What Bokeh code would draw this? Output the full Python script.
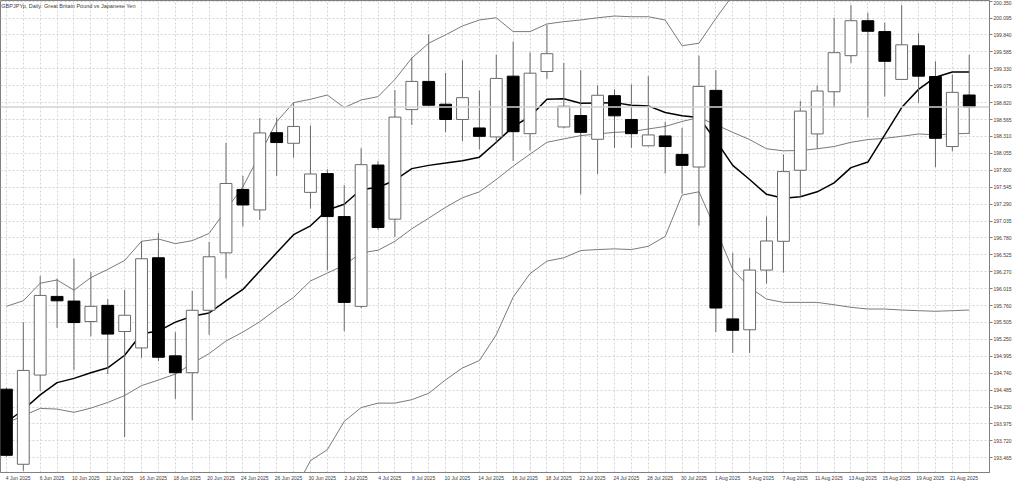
from bokeh.plotting import figure
from bokeh.models import FixedTicker, Label, ColumnDataSource, Range1d, Span
from bokeh.embed import file_html
from bokeh.resources import INLINE

# ---- data (GBPJPYp, Daily) ----
dates = ["4 Jun 2025", "5 Jun 2025", "6 Jun 2025", "9 Jun 2025", "10 Jun 2025", "11 Jun 2025",
         "12 Jun 2025", "13 Jun 2025", "16 Jun 2025", "17 Jun 2025", "18 Jun 2025", "19 Jun 2025",
         "20 Jun 2025", "23 Jun 2025", "24 Jun 2025", "25 Jun 2025", "26 Jun 2025", "27 Jun 2025",
         "30 Jun 2025", "1 Jul 2025", "2 Jul 2025", "3 Jul 2025", "4 Jul 2025", "7 Jul 2025",
         "8 Jul 2025", "9 Jul 2025", "10 Jul 2025", "11 Jul 2025", "14 Jul 2025", "15 Jul 2025",
         "16 Jul 2025", "17 Jul 2025", "18 Jul 2025", "21 Jul 2025", "22 Jul 2025", "23 Jul 2025",
         "24 Jul 2025", "25 Jul 2025", "28 Jul 2025", "29 Jul 2025", "30 Jul 2025", "31 Jul 2025",
         "1 Aug 2025", "4 Aug 2025", "5 Aug 2025", "6 Aug 2025", "7 Aug 2025", "8 Aug 2025",
         "11 Aug 2025", "12 Aug 2025", "13 Aug 2025", "14 Aug 2025", "15 Aug 2025", "18 Aug 2025",
         "19 Aug 2025", "20 Aug 2025", "21 Aug 2025", "22 Aug 2025"]

opens = [194.499, 193.367, 194.712, 195.898, 195.828, 195.519, 195.763, 195.369, 195.121, 196.481,
         195.002, 194.748, 195.689, 196.555, 197.511, 197.202, 198.367, 198.207, 197.467, 197.750,
         197.102, 195.748, 197.879, 197.063, 198.715, 199.140, 198.796, 198.566, 198.438, 198.303,
         199.219, 198.352, 199.289, 198.453, 198.626, 198.267, 198.925, 198.566, 198.169, 198.318,
         198.039, 197.849, 199.005, 195.559, 195.395, 196.295, 196.729, 197.800, 198.348, 198.984,
         199.528, 200.055, 199.891, 199.170, 199.677, 199.214, 198.158, 198.935]
highs = [194.520, 195.510, 196.206, 196.167, 196.470, 196.265, 195.858, 195.997, 196.729, 196.854,
         195.360, 195.982, 196.720, 198.214, 197.715, 198.587, 198.596, 198.820, 198.476, 197.815,
         197.576, 198.133, 197.939, 199.010, 199.503, 199.851, 199.268, 199.458, 199.005, 199.543,
         199.742, 199.577, 199.991, 199.418, 199.309, 199.080, 199.020, 199.095, 199.219, 198.532,
         198.438, 199.528, 199.309, 196.555, 196.481, 197.102, 198.039, 198.845, 199.080, 200.100,
         200.290, 200.175, 200.026, 200.290, 199.866, 199.443, 199.244, 199.543]
lows = [193.480, 193.269, 194.473, 195.424, 194.786, 195.294, 194.727, 193.777, 194.972, 194.921,
        194.353, 194.031, 195.320, 196.167, 196.953, 197.053, 197.715, 197.989, 197.222, 196.291,
        195.375, 195.720, 196.903, 196.794, 198.482, 198.756, 198.372, 198.237, 198.113, 198.222,
        197.939, 198.098, 199.179, 198.432, 197.437, 197.744, 198.139, 198.139, 198.160, 197.750,
        197.446, 196.963, 195.360, 195.046, 195.046, 196.092, 196.256, 197.401, 198.124, 198.745,
        199.418, 198.596, 198.910, 199.170, 198.820, 197.849, 198.088, 198.348]
closes = [193.502, 194.782, 195.913, 195.832, 195.504, 195.748, 195.330, 195.614, 196.466, 194.981,
          194.748, 195.689, 196.496, 197.601, 197.277, 198.363, 198.218, 198.461, 197.744, 197.102,
          195.808, 197.885, 196.938, 198.602, 199.140, 198.781, 198.566, 198.895, 198.312, 199.185,
          198.382, 199.264, 199.558, 198.766, 198.372, 198.931, 198.621, 198.352, 198.333, 198.158,
          197.874, 199.065, 195.723, 195.387, 196.295, 196.734, 197.780, 198.692, 198.995, 199.573,
          200.055, 199.896, 199.443, 199.692, 199.219, 198.282, 198.975, 198.756]

# thick moving average line
ma_line = [194.001, 194.189, 194.413, 194.598, 194.662, 194.748, 194.822, 195.011, 195.335, 195.375,
           195.510, 195.599, 195.648, 195.832, 196.003, 196.280, 196.555, 196.829, 196.963, 197.202,
           197.287, 197.511, 197.541, 197.650, 197.825, 197.874, 197.909, 197.945, 197.998, 198.222,
           198.457, 198.611, 198.871, 198.880, 198.811, 198.816, 198.820, 198.781, 198.771, 198.671,
           198.621, 198.596, 198.248, 197.874, 197.661, 197.437, 197.377, 197.401, 197.475, 197.610,
           197.840, 197.924, 198.333, 198.745, 199.020, 199.204, 199.283, 199.283]
# Bollinger bands
bb_upper = [195.749, 195.832, 196.097, 196.146, 195.992, 196.182, 196.306, 196.440, 196.729, 196.764,
            196.694, 196.739, 196.848, 197.202, 197.550, 198.039, 198.532, 198.820, 198.871, 198.935,
            198.745, 198.860, 198.910, 199.170, 199.492, 199.716, 199.842, 199.976, 200.066, 200.100,
            199.891, 199.891, 200.006, 200.041, 200.066, 200.100, 200.126, 200.115, 200.115, 200.066,
            199.678, 199.716, 200.090, 200.438, 200.493, 200.390, 200.380, 200.389, 200.439, 200.544,
            200.711, 200.817, 200.856, 200.931, 201.012, 200.992, 201.012, 201.021]
bb_mid = [193.990, 194.099, 194.210, 194.199, 194.150, 194.214, 194.299, 194.404, 194.553, 194.637,
          194.727, 194.887, 195.036, 195.226, 195.360, 195.517, 195.708, 195.883, 196.131, 196.250,
          196.370, 196.555, 196.594, 196.729, 196.918, 197.078, 197.242, 197.386, 197.475, 197.661,
          197.862, 198.043, 198.222, 198.273, 198.323, 198.348, 198.372, 198.382, 198.423, 198.461,
          198.536, 198.596, 198.487, 198.372, 198.263, 198.124, 198.094, 198.098, 198.124, 198.158,
          198.222, 198.263, 198.282, 198.312, 198.348, 198.333, 198.348, 198.357]
bb_lower = [192.232, 192.366, 192.323, 192.253, 192.308, 192.247, 192.293, 192.368, 192.378, 192.510,
            192.759, 193.034, 193.224, 193.183, 193.169, 193.004, 192.885, 192.944, 193.422, 193.587,
            194.013, 194.222, 194.289, 194.289, 194.341, 194.438, 194.640, 194.819, 194.931, 195.320,
            195.887, 196.242, 196.430, 196.481, 196.590, 196.605, 196.615, 196.605, 196.654, 196.803,
            197.426, 197.476, 196.903, 196.306, 196.032, 195.858, 195.808, 195.808, 195.808, 195.772,
            195.734, 195.708, 195.708, 195.693, 195.683, 195.674, 195.683, 195.693]

price_ticks = [200.350, 200.095, 199.840, 199.585, 199.330, 199.075, 198.820, 198.565, 198.310,
               198.055, 197.800, 197.545, 197.290, 197.035, 196.780, 196.525, 196.270, 196.015,
               195.760, 195.505, 195.250, 194.995, 194.740, 194.485, 194.230, 193.975, 193.720,
               193.465]

title_text = "GBPJPYp, Daily:  Great Britain Pound vs Japanese Yen"

# ---- build ----
idx = list(range(len(dates)))
FONT = "Liberation Sans"
GRID = "#d4d4d4"
AXC = "#808080"
TXT = "#3c3c3c"

p = figure(width=1016, height=484, output_backend="svg", toolbar_location=None,
           x_range=Range1d(-0.35, 58.2), y_range=Range1d(193.243, 200.36),
           y_axis_location="right", min_border=0, min_border_right=27,
           min_border_bottom=12)
p.background_fill_color = "white"
p.border_fill_color = "white"
p.outline_line_color = AXC

# grids: vertical at every bar, horizontal at every price tick
p.xgrid.ticker = FixedTicker(ticks=idx)
p.xgrid.grid_line_color = GRID
p.xgrid.grid_line_dash = "2 2"
p.ygrid.grid_line_color = GRID
p.ygrid.grid_line_dash = "2 2"

# x axis: labels on every second bar, text starting at the bar
lab_off = 0.7
xt = [i + lab_off for i in idx if i % 2 == 0]
p.xaxis.ticker = FixedTicker(ticks=xt)
p.xaxis.major_label_overrides = {i + lab_off: dates[i] for i in idx if i % 2 == 0}
p.xaxis.major_tick_out = 0
p.xaxis.major_tick_in = 0
p.xaxis.minor_tick_line_color = None
p.xaxis.axis_line_color = AXC
p.xaxis.major_label_standoff = 2
p.xaxis.major_label_text_font = FONT
p.xaxis.major_label_text_font_size = "5px"
p.xaxis.major_label_text_color = TXT

p.yaxis.ticker = FixedTicker(ticks=price_ticks)
p.yaxis.major_label_overrides = {t: f"{t:.3f}" for t in price_ticks}
p.yaxis.major_tick_out = 3
p.yaxis.major_tick_in = 0
p.yaxis.minor_tick_line_color = None
p.yaxis.axis_line_color = AXC
p.yaxis.major_tick_line_color = AXC
p.yaxis.major_label_standoff = 1
p.yaxis.major_label_text_font = FONT
p.yaxis.major_label_text_font_size = "5px"
p.yaxis.major_label_text_color = TXT

# current price line
last = closes[-1]
p.add_layout(Span(location=last, dimension="width", line_color="#d2d2d2", line_width=1.5))

# bollinger bands + moving average
p.line(idx, bb_upper, line_color="#7a7a7a", line_width=1)
p.line(idx, bb_mid, line_color="#7a7a7a", line_width=1)
p.line(idx, bb_lower, line_color="#7a7a7a", line_width=1)
p.line(idx, ma_line, line_color="black", line_width=1.5)

# candles
src = ColumnDataSource(dict(x=idx, o=opens, h=highs, l=lows, c=closes))
up_x = [i for i in idx if closes[i] >= opens[i]]
dn_x = [i for i in idx if closes[i] < opens[i]]
up = ColumnDataSource(dict(x=up_x, top=[closes[i] for i in up_x], bot=[opens[i] for i in up_x]))
dn = ColumnDataSource(dict(x=dn_x, top=[opens[i] for i in dn_x], bot=[closes[i] for i in dn_x]))

p.segment(x0="x", y0="l", x1="x", y1="h", source=src, line_color="#6a6a6a", line_width=1)
p.vbar(x="x", top="top", bottom="bot", width=0.7, source=up,
       fill_color="white", line_color="#6a6a6a", line_width=1)
p.vbar(x="x", top="top", bottom="bot", width=0.7, source=dn,
       fill_color="black", line_color="black", line_width=1)

# title and price tag
p.add_layout(Label(x=-0.3, y=200.36, y_offset=-2, text=title_text, text_baseline="top",
                   text_font=FONT, text_font_size="5.5px", text_color=TXT))
p.add_layout(Label(x=58.2, y=last, x_offset=1, text=f"{last:.3f}", text_baseline="middle",
                   text_font=FONT, text_font_size="5px", text_color="white",
                   background_fill_color="#c4c4c4", padding=1))

open("out.html", "w").write(file_html(p, INLINE))
